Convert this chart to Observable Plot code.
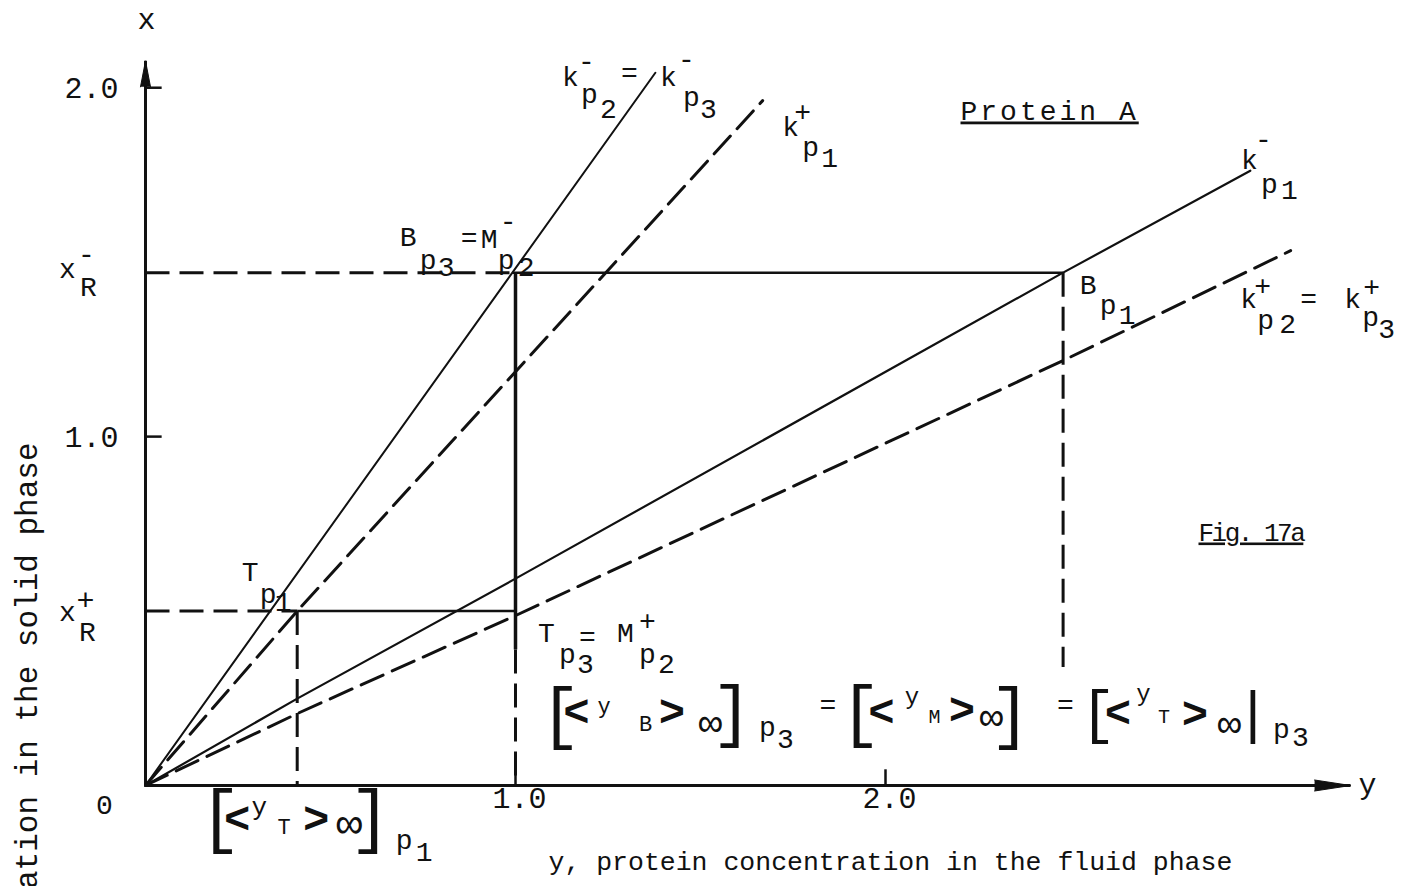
<!DOCTYPE html>
<html>
<head>
<meta charset="utf-8">
<script src="https://cdn.jsdelivr.net/npm/d3@7"></script>
<script src="https://cdn.jsdelivr.net/npm/@observablehq/plot@0.6"></script>
<style>
  html, body { margin: 0; padding: 0; background: #fff; overflow: hidden; }
  #chart svg { display: block; }
</style>
</head>
<body>
<div id="chart"></div>
<script>
// Operating diagram, protein A: x = concentration in the solid phase,
// y = concentration in the fluid phase. Each isotherm is a straight line
// through the origin, listed as [y, x] points.
const isoKMinusP2P3 = [[0, 0], [1.378, 2.043]];                                         // k-p2 = k-p3
const isoKPlusP1    = [[0, 0], [0.41, 0.5], [1.668, 1.963]];                             // k+p1
const isoKMinusP1   = [[0, 0], [0.41, 0.249], [1.0, 0.593], [2.48, 1.47], [2.986, 1.762]];  // k-p1
const isoKPlusP2P3  = [[0, 0], [0.41, 0.206], [1.0, 0.487], [2.48, 1.218], [3.095, 1.533]]; // k+p2 = k+p3

// Operating levels and construction points
const xRMinus = 1.47;   // x_R-
const xRPlus = 0.5;     // x_R+
const yTp1 = 0.41;      // T_p1, [<yT>inf]p1
const yMid = 1.0;       // T_p3 = M+_p2, [<yB>inf]p3 = [<yM>inf] = [<yT>inf]p3
const yBp3 = 0.991;     // B_p3 = M-_p2
const yBp1 = 2.48;      // B_p1
const yMidSolidEnd = 0.39;
const yBp1DashEnd = 0.34;

// Axis ticks and arrow tips
const solidTicks = [1.0, 2.0];
const fluidTicks = [1.0, 2.0];
const solidAxisTop = 2.077;
const fluidAxisEnd = 3.257;

// Headings
const titleText = "Protein A";
const figureText = "Fig. 17a";

// Construction lines: [[y1, x1], [y2, x2]]
const solidSegments = [
  [[yBp3, xRMinus], [yBp1, xRMinus]],
  [[yTp1, xRPlus], [yMid, xRPlus]]
];
const heavySegments = [
  [[yMid, xRMinus], [yMid, yMidSolidEnd]]
];
const dashedSegments = [
  [[0, xRMinus], [yBp3, xRMinus]],
  [[0, xRPlus], [yTp1, xRPlus]],
  [[yTp1, xRPlus], [yTp1, 0]],
  [[yMid, yMidSolidEnd], [yMid, 0]],
  [[yBp1, xRMinus], [yBp1, yBp1DashEnd]]
];

const ink = "#111";
const mono = "'Liberation Mono', 'DejaVu Sans Mono', monospace";
const dash = "24 10";

const seg = (data, opts) => Plot.link(data, {
  x1: d => d[0][0], y1: d => d[0][1], x2: d => d[1][0], y2: d => d[1][1],
  stroke: ink, ...opts
});

// A label built from typewriter pieces (base letters, sub- and superscripts),
// each placed by its centre and baseline relative to an anchor point.
function glyphs(at, parts) {
  return parts.map(([t, dx, dy, size = 28, weight = "normal"]) =>
    Plot.text([at], {
      x: d => d[0], y: d => d[1], text: () => t,
      dx, dy, fontSize: size, fontWeight: weight, fontFamily: mono,
      textAnchor: "middle", lineAnchor: "bottom", fill: ink
    }));
}

const marks = [
  // axes with arrowheads
  Plot.link([[[0, 0], [0, solidAxisTop]], [[0, 0], [fluidAxisEnd, 0]]], {
    x1: d => d[0][0], y1: d => d[0][1], x2: d => d[1][0], y2: d => d[1][1],
    stroke: ink, strokeWidth: 3
  }),
  Plot.vector([[0, solidAxisTop]], {x: d => d[0], y: d => d[1], shape: "spike", anchor: "end",
    length: 26, r: 5, rotate: 0, fill: ink, fillOpacity: 1, stroke: ink, strokeWidth: 1}),
  Plot.vector([[fluidAxisEnd, 0]], {x: d => d[0], y: d => d[1], shape: "spike", anchor: "end",
    length: 36, r: 5.5, rotate: 90, fill: ink, fillOpacity: 1, stroke: ink, strokeWidth: 1}),
  Plot.ruleY(solidTicks, {x1: 0, x2: 0.045, stroke: ink, strokeWidth: 2.5}),
  Plot.ruleX(fluidTicks, {y1: 0, y2: 0.045, stroke: ink, strokeWidth: 2.5}),

  // tick labels
  Plot.text(solidTicks, {x: 0, y: d => d, text: d => d.toFixed(1), dx: -27, dy: 1,
    textAnchor: "end", lineAnchor: "middle", fontSize: 30, fontFamily: mono, fill: ink}),
  Plot.text(fluidTicks, {x: d => d, y: 0, text: d => d.toFixed(1), dx: 4, dy: 13,
    textAnchor: "middle", lineAnchor: "middle", fontSize: 30, fontFamily: mono, fill: ink}),
  Plot.text([0], {x: 0, y: 0, text: () => "0", dx: -41, dy: 20,
    textAnchor: "middle", lineAnchor: "middle", fontSize: 28, fontFamily: mono, fill: ink}),

  // axis names
  Plot.text(["x"], {frameAnchor: "top-left", dx: 1, dy: 28, textAnchor: "middle",
    lineAnchor: "bottom", fontSize: 30, fontFamily: mono, fill: ink}),
  Plot.text(["y"], {x: fluidAxisEnd, y: 0, dx: 17, dy: 8, textAnchor: "middle",
    lineAnchor: "bottom", fontSize: 30, fontFamily: mono, fill: ink}),
  Plot.text(["y, protein concentration in the fluid phase"], {frameAnchor: "top-left",
    dx: 403, dy: 869, textAnchor: "start", lineAnchor: "bottom", fontSize: 26.5, fontFamily: mono, fill: ink}),
  Plot.text(["x, protein concentration in the solid phase"], {frameAnchor: "top-left",
    dx: -109, dy: 442, rotate: -90, textAnchor: "end", lineAnchor: "bottom", fontSize: 31, fontFamily: mono, fill: ink}),

  // isotherms
  Plot.line(isoKMinusP2P3, {stroke: ink, strokeWidth: 2}),
  Plot.line(isoKPlusP1, {stroke: ink, strokeWidth: 3, strokeDasharray: dash}),
  Plot.line(isoKMinusP1, {stroke: ink, strokeWidth: 2.2}),
  Plot.line(isoKPlusP2P3, {stroke: ink, strokeWidth: 3, strokeDasharray: dash}),

  // construction lines
  seg(solidSegments, {strokeWidth: 2.5}),
  seg(heavySegments, {strokeWidth: 3.5}),
  seg(dashedSegments, {strokeWidth: 3, strokeDasharray: dash}),

  // headings
  Plot.text([titleText], {frameAnchor: "top-left", dx: 815, dy: 119, textAnchor: "start",
    lineAnchor: "bottom", fontSize: 28, fontFamily: mono, fill: ink}),
  Plot.text([figureText], {frameAnchor: "top-left", dx: 1053, dy: 540, textAnchor: "start",
    lineAnchor: "bottom", fontSize: 26, fontFamily: mono, fill: ink}),

  // x_R- and x_R+
  ...glyphs([0, xRMinus], [["x", -78, 5], ["R", -57, 23], ["-", -59, -10]]),
  ...glyphs([0, xRPlus], [["x", -78, 10], ["R", -58, 30], ["+", -60, -1, 30]]),

  // k-p2 = k-p3
  ...glyphs(isoKMinusP2P3[isoKMinusP2P3.length - 1], [
    ["k", -85, 13], ["-", -69, -3], ["p", -66, 30], ["2", -47, 45],
    ["=", -26, 9], ["k", 13, 13], ["-", 31, -5], ["p", 36, 33], ["3", 53, 45]
  ]),
  // k+p1
  ...glyphs(isoKPlusP1[isoKPlusP1.length - 1], [
    ["k", 28, 35], ["+", 40, 20], ["p", 48, 55], ["1", 67, 66]
  ]),
  // k-p1
  ...glyphs(isoKMinusP1[isoKMinusP1.length - 1], [
    ["k", -1, -2], ["-", 13, -23], ["p", 19, 22], ["1", 39, 28]
  ]),
  // k+p2 = k+p3
  ...glyphs(isoKPlusP2P3[isoKPlusP2P3.length - 1], [
    ["k", -42, 57], ["+", -28, 44], ["p", -25, 78], ["2", -3, 82],
    ["=", 18, 57], ["k", 62, 57], ["+", 81, 45], ["p", 80, 75], ["3", 96, 87]
  ]),
  // B_p1
  ...glyphs([yBp1, xRMinus], [["B", 25, 21], ["p", 45, 41], ["1", 64, 51]]),
  // B_p3 = M-_p2
  ...glyphs([yBp3, xRMinus], [
    ["B", -104, -27], ["p", -84, -4], ["3", -66, 3], ["=", -43, -26],
    ["M", -23, -25], ["-", -4, -43], ["p", -6, -4], ["2", 14, 3]
  ]),
  // T_p1
  ...glyphs([yTp1, xRPlus], [["T", -47, -30], ["p", -29, -8], ["1", -14, 0]]),
  // T_p3 = M+_p2
  ...glyphs([yMid, xRPlus], [
    ["T", 31, 31], ["p", 52, 52], ["3", 70, 62], ["=", 72, 35],
    ["M", 110, 31], ["+", 132, 19], ["p", 132, 52], ["2", 151, 62]
  ]),
  // [<y B>∞] p3 = [<yM>∞] = [<yT>∞| p3
  ...glyphs([yMid, 0], [
    ["[", 45, -50, 68], ["<", 61, -60, 44, "bold"], ["y", 88.5, -73, 22], ["B", 130, -55, 22],
    [">", 156.5, -60, 44, "bold"], ["∞", 195, -49.5, 40], ["]", 216.5, -52, 68],
    ["p", 252, -50], ["3", 270, -38], ["=", 312.5, -72],
    ["[", 345, -52, 68], ["<", 366, -60, 44, "bold"], ["y", 396.5, -82, 24], ["M", 419, -63, 20],
    [">", 446.5, -62, 44, "bold"], ["∞", 476, -55.5, 40], ["]", 495, -50, 68],
    ["=", 550, -72],
    ["[", 582.5, -54, 60], ["<", 602.5, -58.5, 44, "bold"], ["y", 628, -85, 24], ["T", 648.5, -63, 20],
    [">", 679.5, -57.5, 44, "bold"], ["∞", 714, -48.5, 40], ["|", 737.5, -54, 58],
    ["p", 766, -48], ["3", 785, -40]
  ]),
  // [<yT>∞] p1
  ...glyphs([yTp1, 0], [
    ["[", -77, 53, 70], ["<", -60, 47, 44, "bold"], ["y", -38, 29, 26], ["T", -13, 48, 22],
    [">", 19, 47, 44, "bold"], ["∞", 52, 52, 44], ["]", 73, 53, 70],
    ["p", 107, 63], ["1", 127, 75]
  ])
];

const chart = Plot.plot({
  width: 1411,
  height: 886,
  marginLeft: 145,
  marginRight: 8,
  marginTop: 0,
  marginBottom: 101,
  x: {domain: [0, 3.4], axis: null},
  y: {domain: [0, 2.25], axis: null},
  style: {background: "#fff", color: ink, overflow: "visible"},
  marks
});

// Underline the two headings as typed on the original sheet
d3.select(chart).selectAll("text")
  .filter(function () { return this.textContent === titleText; })
  .style("text-decoration", "underline")
  .style("letter-spacing", "3px");
d3.select(chart).selectAll("text")
  .filter(function () { return this.textContent === figureText; })
  .style("text-decoration", "underline")
  .style("letter-spacing", "-2.5px");

document.getElementById("chart").append(chart);
</script>
</body>
</html>
